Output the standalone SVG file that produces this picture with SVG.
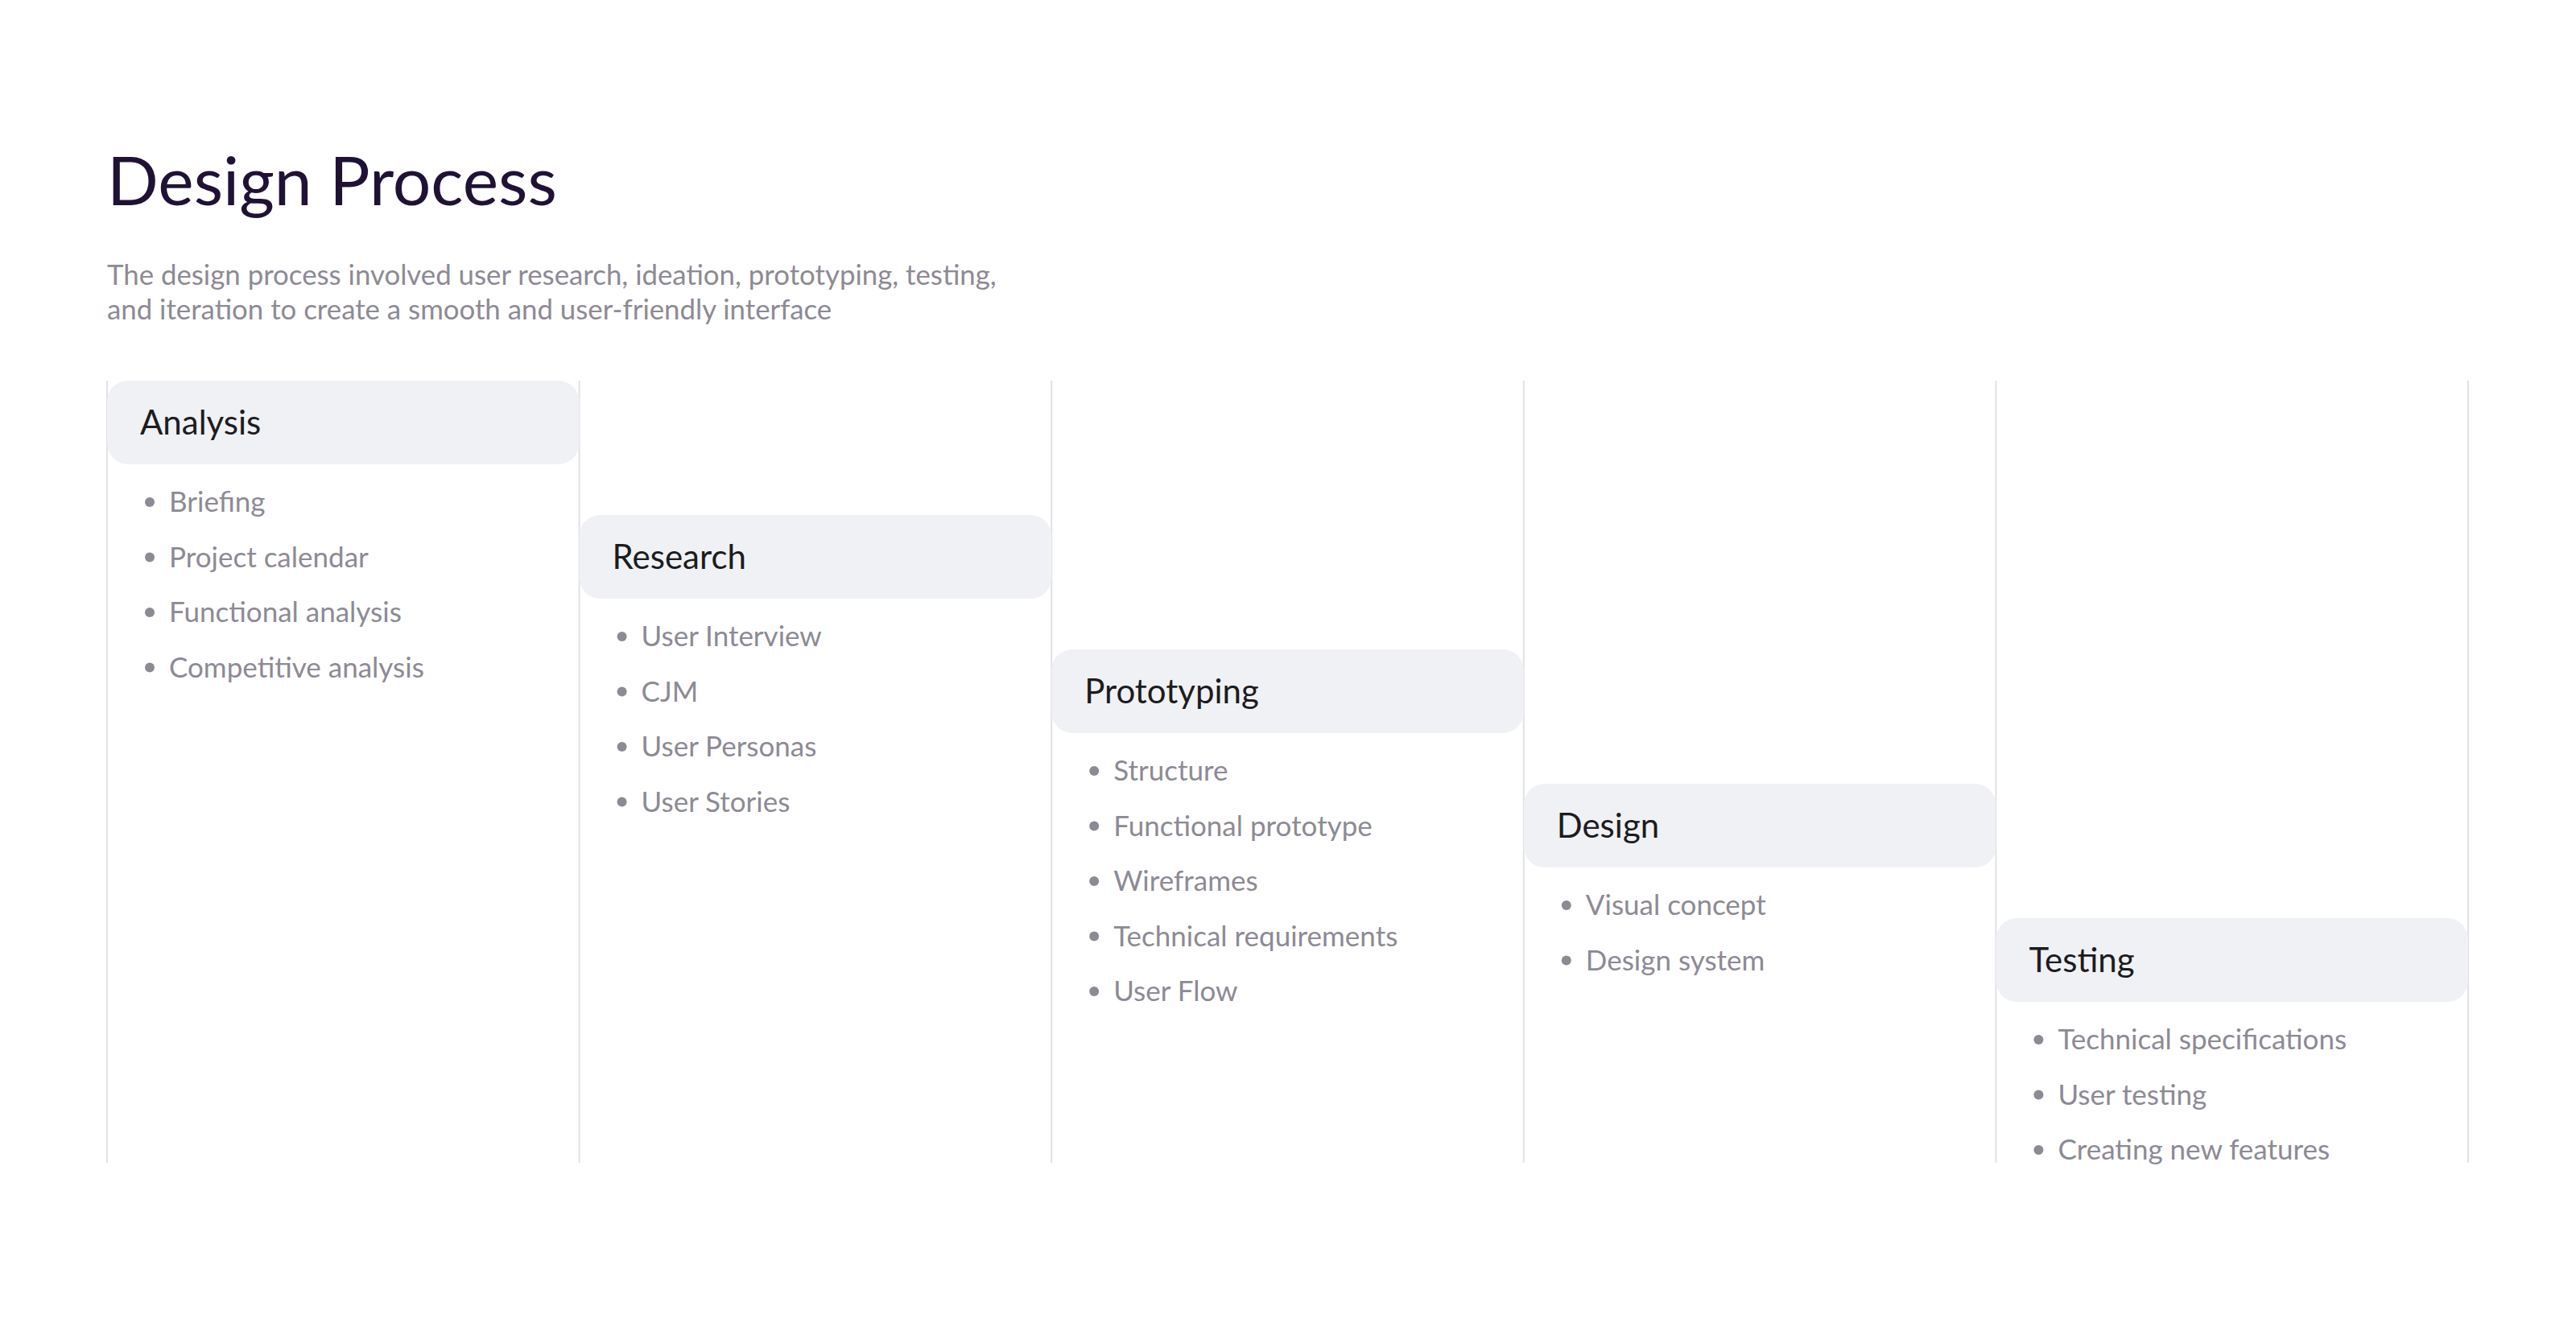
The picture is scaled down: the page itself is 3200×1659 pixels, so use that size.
<svg xmlns="http://www.w3.org/2000/svg" width="3200" height="1659" viewBox="0 0 3200 1659">
<style>
.title{font-family:Lato,"Noto Sans",sans-serif;font-size:84px;fill:#1f1235}
.sub{font-family:Lato,"Noto Sans",sans-serif;font-size:34.8px;fill:#8d8a94}
.hdr{fill:#f0f1f4}
.htxt{font-family:Lato,"Noto Sans",sans-serif;font-size:42px;fill:#1c1c20}
.item{font-family:Lato,"Noto Sans",sans-serif;font-size:35px;fill:#8d8a94}
.dot{fill:#8d8a94}
.sep{stroke:#e2e2e6;stroke-width:2}
</style>
<rect width="3200" height="1659" fill="#ffffff"/>
<text class="title" x="133" y="255">Design Process</text>
<text class="sub" x="133" y="354">The design process involved user research, ideation, prototyping, testing,</text>
<text class="sub" x="133" y="397">and iteration to create a smooth and user-friendly interface</text>
<g id="connectors">
<line class="sep" x1="133" y1="473" x2="133" y2="1445"/>
<line class="sep" x1="719.6" y1="473" x2="719.6" y2="1445"/>
<line class="sep" x1="1306.2" y1="473" x2="1306.2" y2="1445"/>
<line class="sep" x1="1892.8" y1="473" x2="1892.8" y2="1445"/>
<line class="sep" x1="2479.4" y1="473" x2="2479.4" y2="1445"/>
<line class="sep" x1="3066" y1="473" x2="3066" y2="1445"/>
</g>
<g id="analysis">
<rect class="hdr" x="133" y="473" width="586.6" height="104" rx="26"/>
<text class="htxt" x="174" y="540">Analysis</text>
<circle class="dot" cx="186" cy="624" r="6"/><text class="item" x="210" y="636">Briefing</text>
<circle class="dot" cx="186" cy="692.5" r="6"/><text class="item" x="210" y="704.5">Project calendar</text>
<circle class="dot" cx="186" cy="761" r="6"/><text class="item" x="210" y="773">Functional analysis</text>
<circle class="dot" cx="186" cy="829.5" r="6"/><text class="item" x="210" y="841.5">Competitive analysis</text>
</g>
<g id="research">
<rect class="hdr" x="719.6" y="640" width="586.6" height="104" rx="26"/>
<text class="htxt" x="760.6" y="707">Research</text>
<circle class="dot" cx="772.6" cy="791" r="6"/><text class="item" x="796.6" y="803">User Interview</text>
<circle class="dot" cx="772.6" cy="859.5" r="6"/><text class="item" x="796.6" y="871.5">CJM</text>
<circle class="dot" cx="772.6" cy="928" r="6"/><text class="item" x="796.6" y="940">User Personas</text>
<circle class="dot" cx="772.6" cy="996.5" r="6"/><text class="item" x="796.6" y="1008.5">User Stories</text>
</g>
<g id="prototyping">
<rect class="hdr" x="1306.2" y="807" width="586.6" height="104" rx="26"/>
<text class="htxt" x="1347.2" y="874">Prototyping</text>
<circle class="dot" cx="1359.2" cy="958" r="6"/><text class="item" x="1383.2" y="970">Structure</text>
<circle class="dot" cx="1359.2" cy="1026.5" r="6"/><text class="item" x="1383.2" y="1038.5">Functional prototype</text>
<circle class="dot" cx="1359.2" cy="1095" r="6"/><text class="item" x="1383.2" y="1107">Wireframes</text>
<circle class="dot" cx="1359.2" cy="1163.5" r="6"/><text class="item" x="1383.2" y="1175.5">Technical requirements</text>
<circle class="dot" cx="1359.2" cy="1232" r="6"/><text class="item" x="1383.2" y="1244">User Flow</text>
</g>
<g id="design">
<rect class="hdr" x="1892.8" y="974" width="586.6" height="104" rx="26"/>
<text class="htxt" x="1933.8" y="1041">Design</text>
<circle class="dot" cx="1945.8" cy="1125" r="6"/><text class="item" x="1969.8" y="1137">Visual concept</text>
<circle class="dot" cx="1945.8" cy="1193.5" r="6"/><text class="item" x="1969.8" y="1205.5">Design system</text>
</g>
<g id="testing">
<rect class="hdr" x="2479.4" y="1141" width="586.6" height="104" rx="26"/>
<text class="htxt" x="2520.4" y="1208">Testing</text>
<circle class="dot" cx="2532.4" cy="1292" r="6"/><text class="item" x="2556.4" y="1304">Technical specifications</text>
<circle class="dot" cx="2532.4" cy="1360.5" r="6"/><text class="item" x="2556.4" y="1372.5">User testing</text>
<circle class="dot" cx="2532.4" cy="1429" r="6"/><text class="item" x="2556.4" y="1441">Creating new features</text>
</g>
</svg>
